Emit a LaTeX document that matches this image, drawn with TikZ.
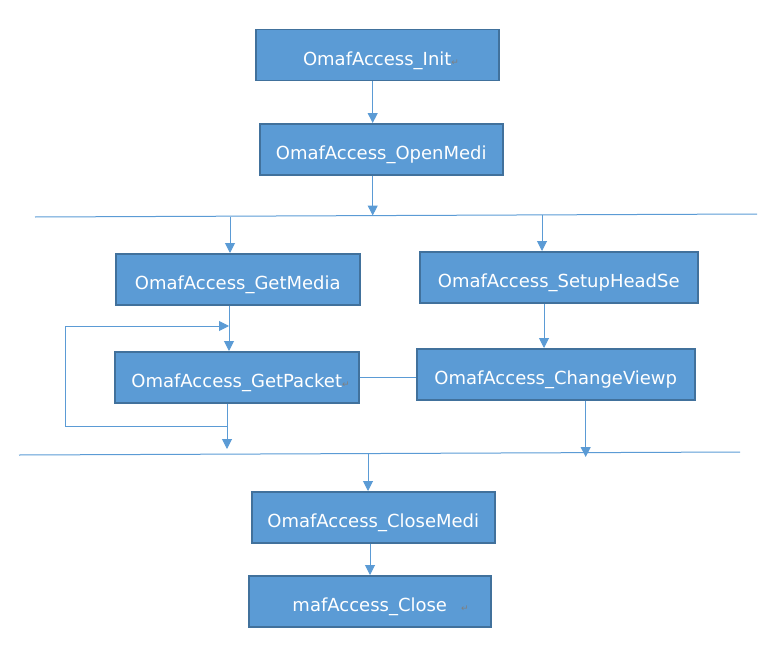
\documentclass[tikz,border=0pt]{standalone}
\usepackage{fontspec}
\usepackage{xcolor}
\usepackage{tikz}
\usetikzlibrary{arrows.meta,positioning,calc}
\newfontfamily\dejavu{DejaVu Sans}
\definecolor{boxfill}{RGB}{91,155,213}
\definecolor{boxedge}{RGB}{65,113,156}
\definecolor{linkcolor}{RGB}{91,155,213}
\newcommand{\retmark}[1][0pt]{\rlap{\hspace{#1}\color{gray}\fontsize{9}{9}\selectfont ↵}}

\begin{document}
\begin{tikzpicture}[x=1pt,y=-1pt,box/.style={draw=boxedge,fill=boxfill,line width=1.5pt,anchor=north west,minimum height=51pt,inner sep=0pt,text=white,text height=20pt,text depth=0pt,font=\dejavu\fontsize{18}{20}\selectfont},arr/.style={-{Triangle[width=10pt,length=10pt]},draw=linkcolor,line width=1pt},bus/.style={draw=linkcolor,line width=1pt}]
\useasboundingbox (0,0) rectangle (763,669);
\node[box,minimum width=243pt](init) at (255,29){OmafAccess\_Init\retmark};
\node[box,minimum width=243pt](open) at (259,123){OmafAccess\_OpenMedi};
\node[box,minimum width=244pt](getmedia) at (115,253){OmafAccess\_GetMedia};
\node[box,minimum width=278pt](setup) at (419,251){OmafAccess\_SetupHeadSe};
\node[box,minimum width=244pt](getpacket) at (114,351){OmafAccess\_GetPacket\retmark};
\node[box,minimum width=278pt](change) at (416,348){OmafAccess\_ChangeViewp};
\node[box,minimum width=243pt](closemedi) at (251,491){OmafAccess\_CloseMedi};
\node[box,minimum width=242pt](close) at (248,575){mafAccess\_Close\retmark[14pt]};
% the two split lines
\coordinate (busAl) at (35,217); \coordinate (busAr) at (757,214);
\coordinate (busBl) at (19,455); \coordinate (busBr) at (740,452);
\draw[bus](busAl)--(busAr); \draw[bus](busBl)--(busBr);
\coordinate (tapO) at (372.7,215.5); \coordinate (tapA) at (230,216.6); \coordinate (tapB) at (542,215.4); \coordinate (tapC) at (368,453.5);
\coordinate (loopA) at (227,426); \coordinate (loopB) at (65,326); \coordinate (loopC) at (229,326);
\coordinate (endA) at (227,449); \coordinate (endB) at (585.7,457);
\draw[arr](init.south-|tapO)--(open.north-|tapO);
\draw[arr](open.south-|tapO)--(tapO);
\draw[arr](tapA)--(tapA|-getmedia.north); \draw[arr](tapB)--(tapB|-setup.north);
\draw[arr](getmedia.south-|loopC)--(getpacket.north-|loopC);
\draw[arr](setup.south-|544,0)--(change.north-|544,0);
\draw[bus](getpacket.east|-0,377)--(change.west|-0,377);
\draw[arr](getpacket.south-|endA)--(endA);
\draw[arr](loopA)-|(loopB)--(loopC);
\draw[arr](change.south-|endB)--(endB);
\draw[arr](tapC)--(tapC|-closemedi.north);
\draw[arr](closemedi.south-|370,0)--(close.north-|370,0);
\end{tikzpicture}
\end{document}
